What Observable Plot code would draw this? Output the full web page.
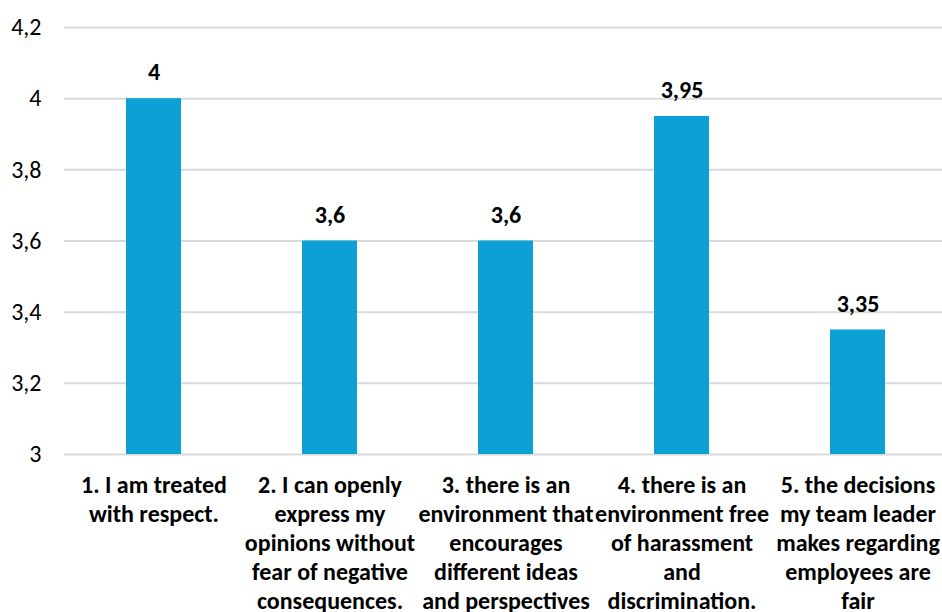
<!DOCTYPE html>
<html>
<head>
<meta charset="utf-8">
<script src="https://cdn.jsdelivr.net/npm/d3@7"></script>
<script src="https://cdn.jsdelivr.net/npm/@observablehq/plot@0.6"></script>
<style>
  html, body { margin: 0; padding: 0; background: #fff; }
  #chart svg { display: block; }
</style>
</head>
<body>
<div id="chart"></div>
<script>
// Survey statements (one per bar), with manual line breaks for the axis labels
const categories = [
  "1. I am treated\nwith respect.",
  "2. I can openly\nexpress my\nopinions without\nfear of negative\nconsequences.",
  "3. there is an\nenvironment that\nencourages\ndifferent ideas\nand perspectives",
  "4. there is an\nenvironment free\nof harassment\nand\ndiscrimination.",
  "5. the decisions\nmy team leader\nmakes regarding\nemployees are\nfair"
];
// Average score for each statement
const values = [4, 3.6, 3.6, 3.95, 3.35];
// Y axis ticks
const yTicks = [3, 3.2, 3.4, 3.6, 3.8, 4, 4.2];

const data = categories.map((c, i) => ({category: c, value: values[i]}));
const comma = v => String(v).replace(".", ",");
const font = "Carlito, Lato, 'Open Sans', sans-serif";

const chart = Plot.plot({
  width: 942,
  height: 612,
  marginTop: 27,
  marginBottom: 158,
  marginLeft: 64,
  marginRight: 0,
  style: {fontFamily: font, fontSize: "24px", color: "#000", background: "#fff"},
  x: {domain: categories, range: [64, 946], paddingInner: 0.688, paddingOuter: 0.344, label: null},
  y: {domain: [3, 4.2], label: null, ticks: yTicks},
  marks: [
    Plot.gridY(yTicks, {stroke: "#d9d9d9", strokeOpacity: 1, strokeWidth: 2}),
    Plot.barY(data, {x: "category", y1: 3, y2: "value", fill: "#0ca1d6"}),
    Plot.text(data, {
      x: "category", y: "value", text: d => comma(d.value),
      dy: -26, fontWeight: "bold", fontSize: 24, fill: "#000"
    }),
    Plot.axisY(yTicks, {
      tickSize: 0, tickPadding: 23, tickFormat: comma,
      fontSize: 24, fill: "#000"
    }),
    Plot.axisX({
      tickSize: 0, tickPadding: 18, lineHeight: 1.208,
      fontWeight: "bold", fontSize: 24, fill: "#000"
    })
  ]
});

document.getElementById("chart").appendChild(chart);
</script>
</body>
</html>
